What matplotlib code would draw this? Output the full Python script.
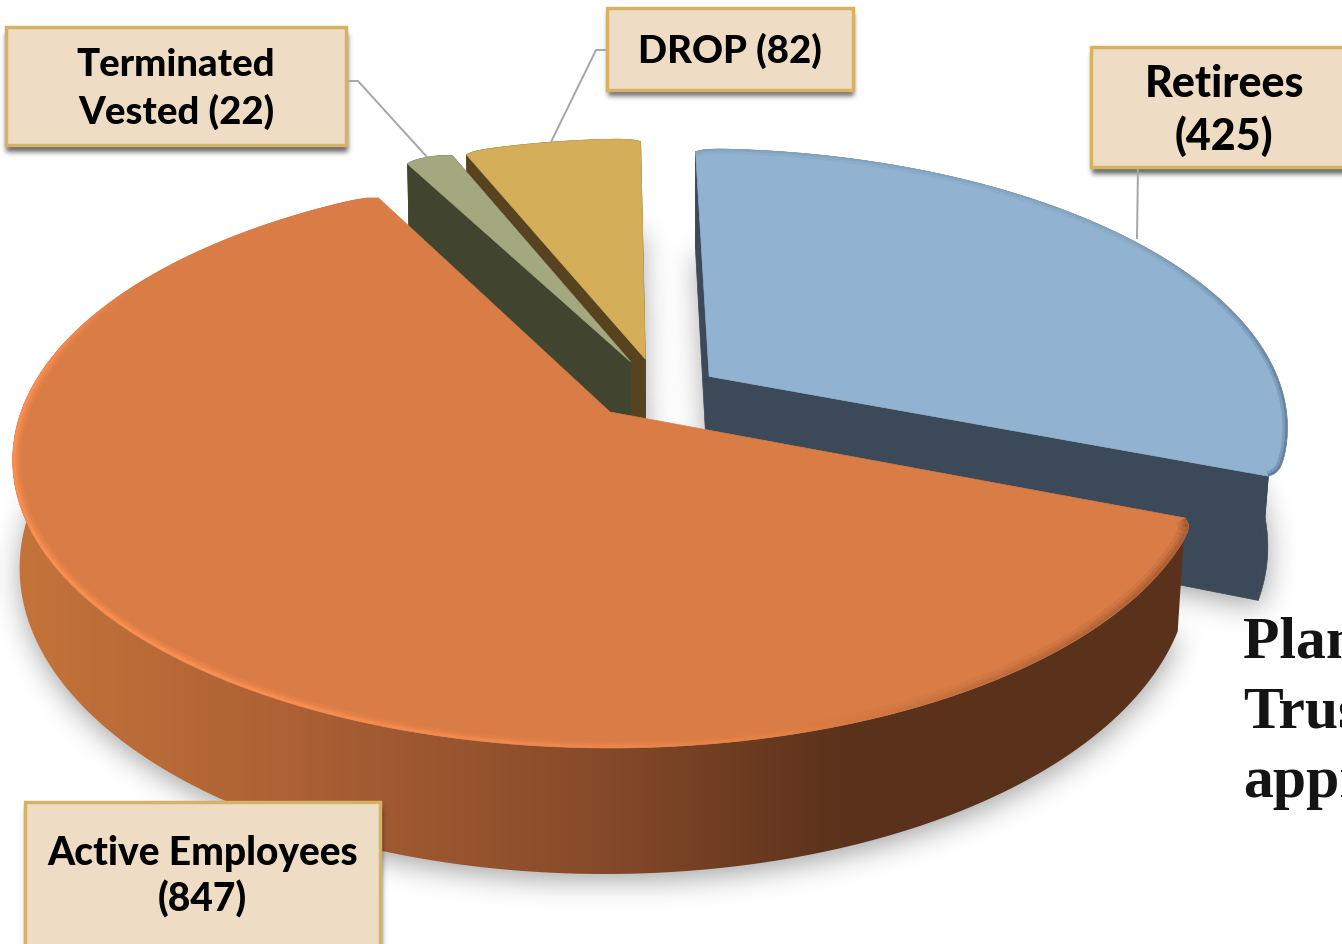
#!/usr/bin/env python3
import numpy as np
import matplotlib
matplotlib.use("Agg")
import matplotlib.pyplot as plt
from matplotlib.collections import LineCollection
from matplotlib.colors import to_rgb
from matplotlib.patches import PathPatch, Rectangle
from matplotlib.path import Path

# Daten
categories = ["Retirees", "Active Employees", "Terminated Vested", "DROP"]
values = [425, 847, 22, 82]
label_lines = [["Retirees", "(425)"], ["Active Employees", "(847)"],
               ["Terminated", "Vested (22)"], ["DROP (82)"]]
side_text = ["Plan", "Trus", "appr"]

# Stil je Segment (gleiche Reihenfolge wie categories)
top_colors = ["#91B2D0", "#D97C45", "#A3A87F", "#D4AE58"]
wall_colors = ["#3B4958", "#5B311C", "#414530", "#574320"]
explode = [(0.172, 0.13), (0.0, 0.0), (0.036, 0.185), (0.062, 0.195)]
radius = [0.985, 1.0, 0.975, 0.97]
depth = [118, 105, 105, 105]
# untere Ebene: Stauchung um einen festen x-Wert
low_anchor = [695, 360, 640, 640]
low_scale = [0.967, 0.98, 0.98, 0.98]
label_size = [31, 28, 27.5, 27.5]

W, H = 1342, 944
CX, CY = 610, 412
A, B, K = 589, 280, 1 / 6


def project(theta, r, off):
    # Winkel im Uhrzeigersinn ab 12 Uhr, Perspektive über w
    t = np.radians(theta)
    u = off[0] + r * np.sin(t)
    v = off[1] + r * np.cos(t)
    w = 1 + K * v
    return CX + A * u / w, CY - B * v / w, w


def lower(i, x, y, w):
    return low_anchor[i] + (x - low_anchor[i]) * low_scale[i], y + depth[i] / w


def blur(mask, sigma):
    fy = np.fft.fftfreq(mask.shape[0])[:, None]
    fx = np.fft.rfftfreq(mask.shape[1])[None, :]
    g = np.exp(-2 * (np.pi * sigma) ** 2 * (fx ** 2 + fy ** 2))
    return np.fft.irfft2(np.fft.rfft2(mask) * g, s=mask.shape)


def soft_shadow(ax, polys, sigma, alpha, dy, zorder):
    # Polygone rastern, weichzeichnen, als schwarzes Bild mit Alpha zeichnen
    step = 2
    xx, yy = np.meshgrid(np.arange(0, W, step), np.arange(0, H, step))
    pts = np.column_stack([xx.ravel(), yy.ravel() - dy])
    mask = np.zeros(xx.shape)
    for poly in polys:
        inside = Path(poly).contains_points(pts).reshape(xx.shape)
        mask = np.maximum(mask, inside.astype(float))
    # Rand auffüllen, damit die FFT nicht über den Bildrand wickelt
    pad = 40
    padded = np.pad(mask, pad, mode="edge")
    mask = blur(padded, sigma / step)[pad:-pad, pad:-pad]
    rgba = np.zeros(mask.shape + (4,))
    rgba[..., 3] = np.clip(mask, 0, 1) * alpha
    ax.imshow(rgba, extent=(0, W, H, 0), aspect="auto", zorder=zorder,
              interpolation="bilinear")


def edge_glow(ax, x, y, th, color, th_stops, alpha_stops, layers, clip, zorder):
    # weiche Kante: Linie am Rand, halb von der Deckfläche abgeschnitten
    segs = np.stack([np.column_stack([x[:-1], y[:-1]]), np.column_stack([x[1:], y[1:]])], axis=1)
    a = np.interp((th[:-1] + th[1:]) / 2, th_stops, alpha_stops)
    for lw, alpha in layers:
        cols = np.column_stack([np.tile(to_rgb(color), (len(a), 1)), a * alpha])
        lc = LineCollection(segs, colors=cols, linewidths=lw, zorder=zorder)
        ax.add_collection(lc)
        lc.set_clip_path(clip)


fig = plt.figure(figsize=(W / 100, H / 100), dpi=100)
ax = fig.add_axes([0, 0, 1, 1])
ax.axis("off")

# Winkel aus den Werten
angles = np.cumsum([0] + values) / sum(values) * 360

# Geometrie der Segmente
top_polys, low_polys, rims = [], [], []
for i in range(len(values)):
    th = np.linspace(angles[i], angles[i + 1], 200)
    # Ecken der Deckfläche leicht abrunden, untere Ebene bleibt scharf
    dist = np.minimum(th - th[0], th[-1] - th)
    x, y, w = project(th, radius[i] * (1 - 0.015 * np.exp(-dist / 1.0)), explode[i])
    x0, y0, w0 = project(th, radius[i], explode[i])
    ax0, ay0, aw = project(0.0, 0.0, explode[i])
    lx, ly = lower(i, x0, y0, w0)
    alx, aly = lower(i, ax0, ay0, aw)
    top_polys.append(np.column_stack([np.r_[ax0, x], np.r_[ay0, y]]))
    low_polys.append(np.column_stack([np.r_[alx, lx], np.r_[aly, ly]]))
    rims.append((th, x, y, lx, ly, ax0, ay0, alx, aly))

# Schatten unter dem Kuchen
soft_shadow(ax, low_polys, 14, 0.36, 6, 1)

# Zeichenreihenfolge: hinten nach vorne
z = 2
for i in [0, 3, 2, 1]:
    th, x, y, lx, ly, ax0, ay0, alx, aly = rims[i]
    wall = np.column_stack([np.r_[x, lx[::-1]], np.r_[y, ly[::-1]]])
    if categories[i] == "Active Employees":
        # Außenwand mit Verlauf von links nach rechts
        stops_x = [20, 300, 600, 850, 1200]
        stops_c = np.array([[196, 116, 58], [172, 96, 52], [134, 74, 42],
                            [90, 49, 27], [91, 49, 28]]) / 255
        gx = np.arange(0, W)
        grad = np.stack([np.interp(gx, stops_x, stops_c[:, c]) for c in range(3)], axis=-1)[None, :, :]
        im = ax.imshow(grad, extent=(0, W, H, 0), aspect="auto", zorder=z)
        patch = PathPatch(Path(wall), transform=ax.transData, fc="none", ec="none")
        ax.add_patch(patch)
        im.set_clip_path(patch)
    else:
        ax.fill(wall[:, 0], wall[:, 1], color=wall_colors[i], lw=0.5, zorder=z)
        # Schnittflächen
        for k in [0, -1]:
            ax.fill([ax0, x[k], lx[k], alx], [ay0, y[k], ly[k], aly],
                    color=wall_colors[i], lw=0.5, zorder=z)
    top = ax.fill(top_polys[i][:, 0], top_polys[i][:, 1], color=top_colors[i], lw=0.5, zorder=z + 1)[0]

    if categories[i] == "Active Employees":
        edge_glow(ax, x, y, th, "#FF9254", [150, 215, 275, 300], [0, 1, 1, 0],
                  [(11, 0.25), (7, 0.4), (4, 0.7)], top, z + 2)
        edge_glow(ax, x, y, th, "#8F4E2A", [112, 135, 165], [1, 0.7, 0],
                  [(14, 0.15), (9, 0.25), (5, 0.35)], top, z + 2)
    elif categories[i] == "Retirees":
        edge_glow(ax, x, y, th, "#4F6C88", [55, 85, 112], [0.2, 0.7, 1],
                  [(7, 0.35), (3, 0.6)], top, z + 2)
    z += 4

# Text rechts, läuft über den Bildrand hinaus wie im Original
for s, yy in zip(side_text, [657, 727, 797]):
    ax.text(1243, yy, s, fontsize=43, fontweight="bold", family="Liberation Serif",
            color="#141414", ha="left", va="baseline", zorder=3)

# Beschriftungskästen
boxes = [(1091, 47, 1360, 167), (25, 802, 380, 960), (6, 27, 346, 145), (607, 8, 853, 90)]
text_y = [[84, 136], [853, 899], [65, 112], [51]]
box_polys = [np.array([[a, b], [c, b], [c, d], [a, d]], dtype=float) for a, b, c, d in boxes]
soft_shadow(ax, box_polys, 2.5, 0.6, 5, 30)

leaders = [
    ([1138, 1137], [167, 238]),
    ([346, 358, 427], [81, 81, 157]),
    ([607, 596, 551], [50, 50, 142]),
]
for lx, ly in leaders:
    ax.plot(lx, ly, color="#A6A6A6", lw=1.4, zorder=31)

for i, (a, b, c, d) in enumerate(boxes):
    ax.add_patch(Rectangle((a, b), c - a, d - b, fc="#EEDDC4", ec="#D6B264", lw=2.5, zorder=32))
    for line, yy in zip(label_lines[i], text_y[i]):
        ax.text((a + min(c, 1357)) / 2, yy, line, fontsize=label_size[i], fontweight="black", family="Lato",
                color="black", ha="center", va="center", zorder=33)

ax.set_xlim(0, W)
ax.set_ylim(H, 0)
fig.savefig("out.png", dpi=100)
